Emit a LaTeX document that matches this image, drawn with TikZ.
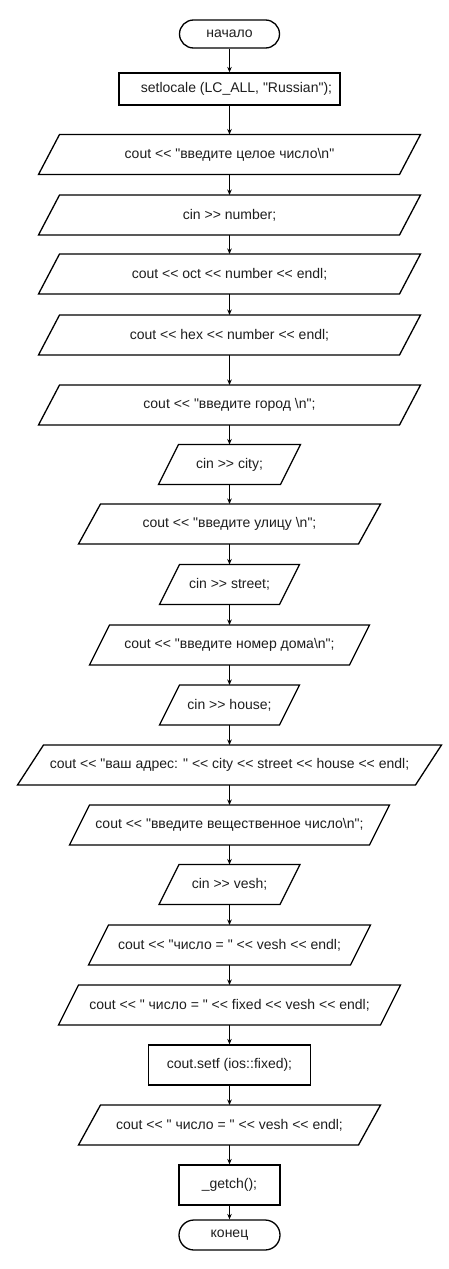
\documentclass[tikz,border=0pt]{standalone}
\usepackage{fontspec}
\newfontfamily\dfont{Liberation Sans}
\usetikzlibrary{arrows.meta}
\definecolor{txt}{HTML}{1E1E1E}
\tikzset{
  base/.style={font=\dfont\fontsize{14}{16}\selectfont, text=txt, inner sep=0pt, line width=1.3pt},
  term/.style={base, draw, rounded corners=14pt, minimum width=100pt, minimum height=28pt},
  procbox/.style={base, draw, minimum height=40pt},
  iobox/.style={base, minimum height=40pt, outer sep=0pt},
  flow/.style={line width=1.3pt, -{Stealth[length=5.5pt,width=4.5pt]}},
  paraline/.style={line width=1.3pt, line join=miter}
}
\newcommand\iopara[2]{\draw[paraline] ([xshift=-#2pt]#1.south west) -- ([xshift=-#2pt]#1.south east) -- ([xshift=#2pt]#1.north east) -- ([xshift=#2pt]#1.north west) -- cycle;}
\begin{document}
\begin{tikzpicture}[x=1pt,y=-1pt]
\useasboundingbox[fill=white] (0,0) rectangle (449,1269);
\node[term] (start) at (229.5,34) {начало};
\node[procbox, minimum width=221pt, minimum height=32pt] (s1) at (229.5,89) {\hspace*{14pt}setlocale (LC\_ALL, "Russian");};
\node[iobox, minimum width=361pt] (p1) at (229.5,154.5) {cout << "введите целое число\textbackslash n"};
\node[iobox, minimum width=361pt] (p2) at (229.5,215) {cin >> number;};
\node[iobox, minimum width=361pt] (p3) at (229.5,274) {cout << oct << number << endl;};
\node[iobox, minimum width=361pt] (p4) at (229.5,335) {cout << hex << number << endl;};
\node[iobox, minimum width=361pt] (p5) at (229.5,405) {cout << "введите город \textbackslash n";};
\node[iobox, minimum width=122pt] (p6) at (229.5,464.5) {cin >> city;};
\node[iobox, minimum width=280pt] (p7) at (229.5,524) {cout << "введите улицу \textbackslash n";};
\node[iobox, minimum width=120pt] (p8) at (229.5,584.5) {cin >> street;};
\node[iobox, minimum width=260pt] (p9) at (229.5,645) {cout << "введите номер дома\textbackslash n";};
\node[iobox, minimum width=120pt] (p10) at (229.5,705) {cin >> house;};
\node[iobox, minimum width=398pt] (p11) at (229.5,765) {cout << "ваш адрес: " << city << street << house << endl;};
\node[iobox, minimum width=300pt] (p12) at (229.5,825) {cout << "введите вещественное число\textbackslash n";};
\node[iobox, minimum width=121pt] (p13) at (229.5,884.5) {cin >> vesh;};
\node[iobox, minimum width=262pt] (p14) at (229.5,945) {cout << "число = " << vesh << endl;};
\node[iobox, minimum width=322pt] (p15) at (229.5,1005) {cout << " число = " << fixed << vesh << endl;};
\node[procbox, minimum width=162pt] (r2) at (229.5,1065) {cout.setf (ios::fixed);};
\node[iobox, minimum width=280pt] (p16) at (229.5,1125) {cout << " число = " << vesh << endl;};
\node[procbox, minimum width=101pt] (r3) at (229.5,1185) {\_getch();};
\node[term, minimum width=101pt, minimum height=30pt, rounded corners=15pt] (end) at (229.5,1235) {конец};
\iopara{p1}{10.5}
\iopara{p2}{10.5}
\iopara{p3}{10.5}
\iopara{p4}{10.5}
\iopara{p5}{10.5}
\iopara{p6}{10}
\iopara{p7}{11}
\iopara{p8}{10}
\iopara{p9}{10}
\iopara{p10}{10}
\iopara{p11}{13}
\iopara{p12}{10}
\iopara{p13}{10}
\iopara{p14}{10}
\iopara{p15}{10}
\iopara{p16}{11}
\foreach \a/\b in {start/s1, s1/p1, p1/p2, p2/p3, p3/p4, p4/p5, p5/p6, p6/p7, p7/p8, p8/p9, p9/p10, p10/p11, p11/p12, p12/p13, p13/p14, p14/p15, p15/r2, r2/p16, p16/r3, r3/end}
  \draw[flow] (\a) -- (\b);
\end{tikzpicture}
\end{document}
